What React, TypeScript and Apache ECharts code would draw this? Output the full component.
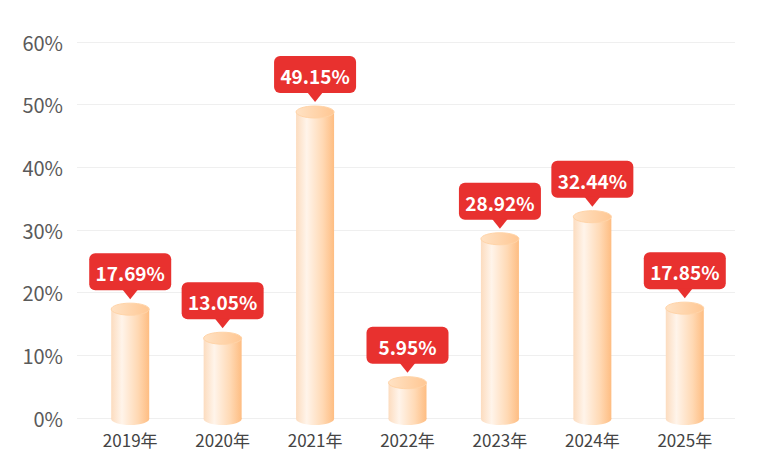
import React, { useEffect, useRef } from "react";
import * as echarts from "echarts";

const categories = ["2019年", "2020年", "2021年", "2022年", "2023年", "2024年", "2025年"];
const values = [17.69, 13.05, 49.15, 5.95, 28.92, 32.44, 17.85];
const yTicks = [0, 10, 20, 30, 40, 50, 60];

const FONT = '"Noto Sans CJK SC", "Noto Sans", sans-serif';

export default function App() {
  const ref = useRef<HTMLDivElement>(null);
  useEffect(() => {
    if (!ref.current) return;
    const chart = echarts.init(ref.current, undefined, { renderer: "svg" });
    const bodyGrad = () =>
      new echarts.graphic.LinearGradient(0, 0, 1, 0, [
        { offset: 0, color: "#fcdcbf" },
        { offset: 0.28, color: "#fff4ea" },
        { offset: 0.7, color: "#ffd9b4" },
        { offset: 1, color: "#febd82" },
      ]);
    const topGrad = () =>
      new echarts.graphic.LinearGradient(0, 0, 1, 0, [
        { offset: 0, color: "#ffe2c4" },
        { offset: 1, color: "#ffc793" },
      ]);
    const yMin = yTicks[0];
    const yMax = yTicks[yTicks.length - 1];
    chart.setOption({
      animation: false,
      backgroundColor: "#ffffff",
      grid: [
        { left: 77, right: 35, top: 42, bottom: 55 },
        { left: 84, right: 39, top: 42, bottom: 55 },
      ],
      xAxis: [
        { type: "category", gridIndex: 0, data: categories, show: false },
        {
          type: "category",
          gridIndex: 1,
          data: categories,
          axisLine: { show: false },
          axisTick: { show: false },
          axisLabel: { color: "#444", fontSize: 17, fontFamily: FONT, margin: 13 },
        },
      ],
      yAxis: [
        {
          type: "value",
          gridIndex: 0,
          min: yMin,
          max: yMax,
          interval: 10,
          axisLine: { show: false },
          axisTick: { show: false },
          axisLabel: { color: "#5a5a5a", fontSize: 20, fontFamily: FONT, margin: 14, formatter: "{value}%" },
          splitLine: { lineStyle: { color: "#efefef", width: 1 } },
        },
        { type: "value", gridIndex: 1, min: yMin, max: yMax, interval: 10, show: false, splitLine: { show: false } },
      ],
      series: [
        {
          type: "custom",
          xAxisIndex: 1,
          yAxisIndex: 1,
          data: values.map((v, i) => [i, v]),
          encode: { x: 0, y: 1 },
          renderItem: (params: any, api: any) => {
            const idx = api.value(0);
            const val = api.value(1);
            const top = api.coord([idx, val]);
            const base = api.coord([idx, 0]);
            const w = 38;
            const ry = 6;
            const cx = top[0];
            const topY = top[1] + 2;
            const tipY = topY - ry - 4;
            const boxBottom = tipY - 9;
            const boxH = 37;
            const boxW = 82;
            const boxTop = boxBottom - boxH;
            return {
              type: "group",
              children: [
                {
                  type: "rect",
                  shape: { x: cx - w / 2, y: topY, width: w, height: base[1] + 1 - topY },
                  style: { fill: bodyGrad() },
                },
                {
                  type: "ellipse",
                  shape: { cx, cy: base[1] + 1, rx: w / 2, ry },
                  style: { fill: bodyGrad() },
                },
                {
                  type: "ellipse",
                  shape: { cx, cy: topY, rx: w / 2, ry },
                  style: { fill: topGrad(), stroke: "#ffd4a8", lineWidth: 1 },
                },
                {
                  type: "rect",
                  shape: { x: cx - boxW / 2, y: boxTop, width: boxW, height: boxH, r: 6 },
                  style: { fill: "#e8312f" },
                },
                {
                  type: "polygon",
                  shape: {
                    points: [
                      [cx - 8, boxBottom - 1],
                      [cx + 8, boxBottom - 1],
                      [cx, tipY],
                    ],
                  },
                  style: { fill: "#e8312f" },
                },
                {
                  type: "text",
                  style: {
                    text: val.toFixed(2) + "%",
                    x: cx,
                    y: boxTop + boxH / 2 + 1,
                    align: "center",
                    verticalAlign: "middle",
                    fill: "#ffffff",
                    fontSize: 19,
                    fontWeight: "bold",
                    fontFamily: FONT,
                  },
                },
              ],
            };
          },
        },
      ],
    });
    return () => chart.dispose();
  }, []);
  return <div ref={ref} style={{ position: "absolute", left: 0, top: 0, width: 770, height: 473 }} />;
}
